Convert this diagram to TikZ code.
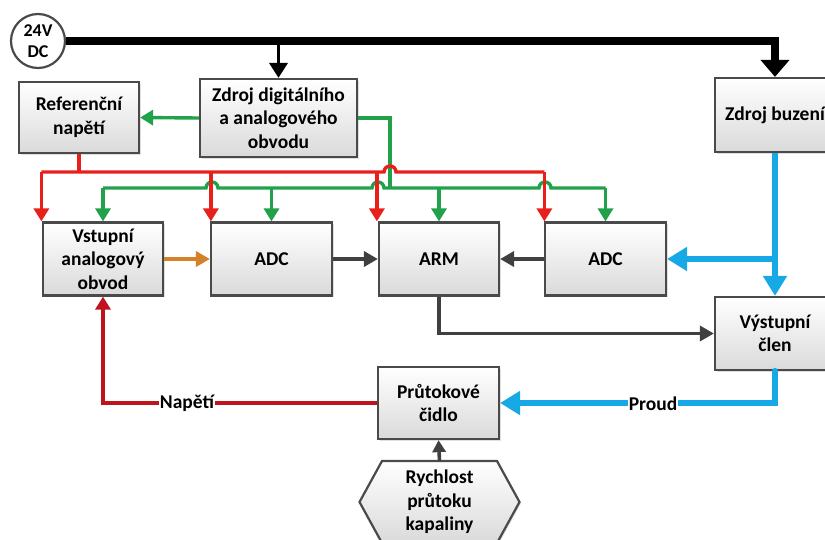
\documentclass[tikz,border=0pt]{standalone}
\usepackage{fontspec}
\setmainfont{Carlito}
\usetikzlibrary{arrows.meta,shadows,calc}
\definecolor{redc}{HTML}{E8201C}
\definecolor{darkredc}{HTML}{C0141C}
\definecolor{greenc}{HTML}{21A149}
\definecolor{bluec}{HTML}{17A9E6}
\definecolor{orangec}{HTML}{D4812A}
\definecolor{grayc}{HTML}{404040}
\definecolor{edgec}{HTML}{4A4A4A}
\definecolor{shadec}{HTML}{DADADA}
\begin{document}
\begin{tikzpicture}[x=1pt,y=-1pt,
  font=\bfseries\fontsize{19.5}{23.5}\selectfont,
  block/.style={draw=edgec,line width=2.2pt,top color=white,bottom color=shadec,
    align=center,inner sep=2pt,minimum height=73pt,minimum width=121pt,
    drop shadow={opacity=0.25,shadow xshift=1.5pt,shadow yshift=-1.5pt}},
  rline/.style={draw=redc,line width=3.4pt,-{Triangle[length=13pt,width=15pt]}},
  rbare/.style={draw=redc,line width=3.4pt},
  gline/.style={draw=greenc,line width=3.4pt,-{Triangle[length=13pt,width=15pt]}},
  gbare/.style={draw=greenc,line width=3.4pt},
  kline/.style={draw=grayc,line width=3.6pt,-{Triangle[length=14pt,width=15pt]}},
  bline/.style={draw=bluec,line width=6.5pt,-{Triangle[length=20pt,width=23pt]}},
  bbare/.style={draw=bluec,line width=6.5pt,line cap=round},
  lbl/.style={fill=white,inner sep=0.5pt},
]
\useasboundingbox (0,0) rectangle (825,539);
\clip (0,0) rectangle (825,539);

% supply symbol
\node[circle,draw=edgec,line width=2.2pt,fill=white,minimum size=54pt,inner sep=0pt,
  align=center,font=\bfseries\fontsize{18}{21}\selectfont] (dc) at (38,41) {24V\\DC};

% blocks
\node[block,minimum width=120pt,minimum height=71pt] (ref) at (79,117.5) {Referenční\\napětí};
\node[block,minimum width=157pt,minimum height=78pt] (zdig) at (278.5,118) {Zdroj digitálního\\a analogového\\obvodu};
\node[block,minimum width=120pt,minimum height=74pt] (zbuz) at (775,115) {Zdroj buzení};
\node[block,minimum width=120pt] (vst) at (103,259) {Vstupní\\analogový\\obvod};
\node[block] (adc1) at (271.5,259) {ADC};
\node[block,minimum width=120pt] (arm) at (439,259) {ARM};
\node[block] (adc2) at (605.5,259) {ADC};
\node[block,minimum width=120pt] (vyst) at (775,333.5) {Výstupní\\člen};
\node[block,minimum height=72pt] (prut) at (438.5,403) {Průtokové\\čidlo};

% hexagonal input: the outline is drawn round the text node
\coordinate (rych) at (439.5,502);
\path[draw=edgec,line width=2.2pt,top color=white,bottom color=shadec,
  drop shadow={opacity=0.25,shadow xshift=1.5pt,shadow yshift=-1.5pt}]
  ($(rych)+(-57.5,-41)$) -- ($(rych)+(57.5,-41)$) -- ($(rych)+(80,0)$) --
  ($(rych)+(57.5,41)$) -- ($(rych)+(-57.5,41)$) -- ($(rych)+(-80,0)$) -- cycle;
\node[minimum width=115pt,minimum height=82pt,inner sep=0pt,align=center] (rychtext) at (rych)
  {Rychlost\\průtoku\\kapaliny};

% power bus
\draw[line width=8pt,-{Triangle[length=17pt,width=28pt]}]
  (dc.east) -- (zbuz.north |- dc.east) -- (zbuz.north);
\draw[line width=3.6pt,-{Triangle[length=15pt,width=18pt]}]
  (zdig.north |- dc.east) -- (zdig.north);

% distribution rails
\coordinate (rbus) at (0,172);
\coordinate (gbus) at (0,188);
\coordinate (gcol) at (390,0);

% green supply
\draw[gline] (zdig.west) -- (ref.east);
\draw[gbare] (zdig.east) -| (gcol |- gbus);
\draw[gbare] (vst.north |- gbus) -- (206,188) arc[start angle=180,end angle=0,radius=6pt]
  -- (372,188) arc[start angle=180,end angle=0,radius=6pt]
  -- (539,188) arc[start angle=180,end angle=0,radius=6pt]
  -- (adc2.north |- gbus);
\draw[gline] (vst.north |- gbus) -- (vst.north);
\draw[gline] (adc1.north |- gbus) -- (adc1.north);
\draw[gline] (arm.north |- gbus) -- (arm.north);
\draw[gline] (adc2.north |- gbus) -- (adc2.north);

% red reference
\draw[rbare] (ref.south) -- (ref.south |- rbus);
\draw[rbare] ([xshift=-0.5pt]vst.north west |- rbus) -- (384,172)
  arc[start angle=180,end angle=0,radius=6pt] -- ([xshift=0.5pt]adc2.north west |- rbus);
\draw[rline] ([xshift=-0.5pt]vst.north west |- rbus) -- ([xshift=-0.5pt]vst.north west);
\draw[rline] ([xshift=1pt]adc1.north west |- rbus) -- ([xshift=1pt]adc1.north west);
\draw[rline] ([xshift=-1pt]arm.north west |- rbus) -- ([xshift=-1pt]arm.north west);
\draw[rline] ([xshift=0.5pt]adc2.north west |- rbus) -- ([xshift=0.5pt]adc2.north west);

% signal chain
\draw[draw=orangec,line width=3.6pt,-{Triangle[length=14pt,width=15pt]}] (vst.east) -- (adc1.west);
\draw[kline] (adc1.east) -- (arm.west);
\draw[kline] (adc2.west) -- (arm.east);
\draw[kline] (arm.south) |- (vyst.west);
\draw[kline,-{Triangle[length=12pt,width=13pt]}] (rychtext.north) -- (prut.south);

% excitation current
\draw[bline] (zbuz.south) -- (vyst.north);
\draw[bline] (zbuz.south |- adc2.east) -- (adc2.east);
\draw[bbare] (vyst.south) |- ([xshift=18pt]prut.east);
\draw[bline] ([xshift=20pt]prut.east) -- (prut.east);
\node[lbl] (proud) at (653,404) {Proud};

% sensor voltage
\draw[draw=darkredc,line width=3.4pt,-{Triangle[length=13pt,width=15pt]}] (prut.west) -| (vst.south);
\node[lbl] (napeti) at (187,403) {Napětí};

\end{tikzpicture}
\end{document}
